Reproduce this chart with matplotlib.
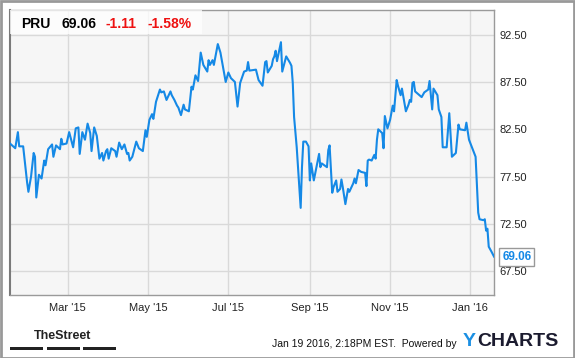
import matplotlib
matplotlib.use('Agg')
import matplotlib.pyplot as plt
import matplotlib.dates as mdates
from matplotlib.patches import Rectangle
import pandas as pd

plt.rcParams['font.family'] = ['Liberation Sans', 'DejaVu Sans']

# PRU closing prices
dates = [
    '2015-01-16', '2015-01-20', '2015-01-22', '2015-01-23', '2015-01-26', '2015-01-29', '2015-01-30',
    '2015-02-01', '2015-02-03', '2015-02-04', '2015-02-05', '2015-02-07', '2015-02-09', '2015-02-11',
    '2015-02-12', '2015-02-14', '2015-02-17', '2015-02-18', '2015-02-20', '2015-02-23', '2015-02-24',
    '2015-02-25', '2015-02-28', '2015-03-02', '2015-03-05', '2015-03-07', '2015-03-09', '2015-03-10',
    '2015-03-12', '2015-03-14', '2015-03-16', '2015-03-18', '2015-03-19', '2015-03-21', '2015-03-23',
    '2015-03-25', '2015-03-27', '2015-03-28', '2015-03-30', '2015-03-31', '2015-04-01', '2015-04-03',
    '2015-04-06', '2015-04-07', '2015-04-09', '2015-04-11', '2015-04-13', '2015-04-15', '2015-04-16',
    '2015-04-17', '2015-04-19', '2015-04-22', '2015-04-24', '2015-04-27', '2015-04-29', '2015-04-30',
    '2015-05-02', '2015-05-04', '2015-05-05', '2015-05-07', '2015-05-10', '2015-05-11', '2015-05-13',
    '2015-05-15', '2015-05-18', '2015-05-19', '2015-05-21', '2015-05-23', '2015-05-24', '2015-05-26',
    '2015-05-28', '2015-05-29', '2015-06-01', '2015-06-03', '2015-06-04', '2015-06-06', '2015-06-08',
    '2015-06-10', '2015-06-12', '2015-06-15', '2015-06-16', '2015-06-17', '2015-06-19', '2015-06-20',
    '2015-06-23', '2015-06-25', '2015-06-29', '2015-07-01', '2015-07-02', '2015-07-03', '2015-07-06',
    '2015-07-08', '2015-07-10', '2015-07-13', '2015-07-15', '2015-07-16', '2015-07-17', '2015-07-22',
    '2015-07-24', '2015-07-27', '2015-07-29', '2015-07-30', '2015-07-31', '2015-08-03', '2015-08-04',
    '2015-08-05', '2015-08-06', '2015-08-07', '2015-08-10', '2015-08-11', '2015-08-14', '2015-08-17',
    '2015-08-18', '2015-08-19', '2015-08-20', '2015-08-22', '2015-08-25', '2015-08-26', '2015-08-27',
    '2015-08-29', '2015-08-31', '2015-09-01', '2015-09-02', '2015-09-04', '2015-09-06', '2015-09-08',
    '2015-09-09', '2015-09-10', '2015-09-14', '2015-09-15', '2015-09-16', '2015-09-18', '2015-09-19',
    '2015-09-21', '2015-09-22', '2015-09-24', '2015-09-25', '2015-09-26', '2015-09-28', '2015-09-30',
    '2015-10-01', '2015-10-04', '2015-10-05', '2015-10-06', '2015-10-08', '2015-10-10', '2015-10-13',
    '2015-10-14', '2015-10-15', '2015-10-16', '2015-10-18', '2015-10-20', '2015-10-21', '2015-10-22',
    '2015-10-23', '2015-10-26', '2015-10-27', '2015-10-28', '2015-10-30', '2015-11-01', '2015-11-03',
    '2015-11-04', '2015-11-06', '2015-11-07', '2015-11-09', '2015-11-10', '2015-11-13', '2015-11-15',
    '2015-11-16', '2015-11-17', '2015-11-18', '2015-11-19', '2015-11-20', '2015-11-25', '2015-11-27',
    '2015-11-30', '2015-12-01', '2015-12-03', '2015-12-04', '2015-12-07', '2015-12-08', '2015-12-10',
    '2015-12-11', '2015-12-14', '2015-12-16', '2015-12-18', '2015-12-21', '2015-12-23', '2015-12-24',
    '2015-12-28', '2015-12-29', '2015-12-31', '2016-01-05', '2016-01-07', '2016-01-08', '2016-01-11',
    '2016-01-12', '2016-01-13', '2016-01-14', '2016-01-15', '2016-01-17', '2016-01-19',
]
prices = [
    81.0, 80.5, 82.2, 80.7, 80.7, 76.9, 75.9,
    77.5, 80.0, 79.6, 75.3, 77.7, 77.3, 79.2,
    78.7, 80.4, 80.9, 79.6, 80.8, 80.4, 81.5,
    80.9, 81.0, 82.2, 80.6, 82.6, 82.7, 79.9,
    82.2, 81.4, 83.1, 82.1, 80.2, 82.7, 81.8,
    79.4, 80.0, 79.2, 80.2, 80.4, 79.4, 80.5,
    80.2, 79.6, 81.1, 80.4, 80.9, 79.9, 80.0,
    79.2, 79.6, 81.2, 80.5, 80.2, 82.4, 81.7,
    83.5, 84.1, 83.6, 85.4, 86.7, 86.4, 86.5,
    85.6, 86.5, 86.1, 85.6, 85.0, 84.8, 84.0,
    85.1, 84.6, 84.4, 87.0, 86.7, 88.2, 87.6,
    90.6, 89.3, 88.6, 89.8, 89.3, 89.8, 89.3,
    91.5, 90.6, 87.5, 88.5, 88.2, 87.9, 87.5,
    84.9, 87.4, 88.6, 88.7, 89.6, 88.7, 88.8,
    87.7, 87.1, 89.6, 89.7, 88.5, 89.2, 89.9,
    90.2, 90.8, 89.7, 91.7, 88.6, 90.2, 89.5,
    89.2, 87.4, 83.8, 80.6, 74.2, 78.5, 81.2,
    81.2, 80.7, 77.1, 78.9, 77.1, 78.5, 79.9,
    78.5, 78.9, 78.5, 80.3, 80.8, 75.8, 76.4,
    77.1, 75.9, 76.2, 77.2, 76.4, 74.6, 76.2,
    75.9, 76.8, 77.3, 76.8, 78.2, 78.0, 77.9,
    76.5, 79.2, 79.3, 79.2, 79.8, 79.4, 81.4,
    82.5, 82.1, 80.5, 83.9, 82.6, 83.5, 85.0,
    84.4, 87.7, 87.1, 86.1, 86.8, 84.4, 85.1,
    85.6, 85.4, 87.4, 87.5, 86.5, 85.9, 86.4,
    86.7, 87.6, 84.6, 86.8, 86.1, 84.6, 83.8,
    80.6, 80.6, 84.2, 79.6, 80.0, 83.0, 82.5,
    82.4, 83.2, 81.4, 79.6, 73.7, 73.0, 72.9,
    73.0, 71.8, 72.0, 70.1, 69.6, 69.06,
]
yticks = [67.5, 72.5, 77.5, 82.5, 87.5, 92.5]
xticks = ['2015-03-01', '2015-05-01', '2015-07-01', '2015-09-01', '2015-11-01', '2016-01-01']

ticker = 'PRU'
last_price = '69.06'
change = '-1.11'
change_pct = '-1.58%'

W, H = 575, 358
BLUE = '#1589e6'

x = pd.to_datetime(dates)

fig = plt.figure(figsize=(W / 100, H / 100), dpi=100)
fig.patch.set_facecolor('white')
ax = fig.add_axes([10 / W, 1 - 295 / H, 484 / W, 285 / H])
ax.set_facecolor('#f6f6f6')

ax.plot(x, prices, color=BLUE, linewidth=1.5, zorder=3)

ax.set_xlim(x[0], x[-1])
ax.set_ylim(65.0, 95.1)
ax.set_yticks(yticks)
ax.set_yticklabels([f'{v:.2f}' for v in yticks])
ax.yaxis.tick_right()
ax.set_xticks(pd.to_datetime(xticks))
ax.xaxis.set_major_formatter(mdates.DateFormatter("%b '%y"))
ax.tick_params(axis='both', length=0, labelsize=8, labelcolor='#222222')
ax.tick_params(axis='y', pad=4)
ax.tick_params(axis='x', pad=6)
ax.grid(True, color='#d9d9d9', linewidth=1)
ax.set_axisbelow(True)
for s in ax.spines.values():
    s.set_color('#9a9a9a')
    s.set_linewidth(1)
ax.spines['left'].set_color('#7a7a7a')
ax.spines['left'].set_linewidth(1.5)

# header with ticker and change
ax.add_patch(Rectangle((0, 1 - 24 / 285), 192 / 484, 24 / 285, transform=ax.transAxes,
                       facecolor='white', alpha=0.75, edgecolor='none', zorder=4))
hy = 1 - 23.5 / H
fig.text(21 / W, hy, ticker, fontsize=10, fontweight='bold', color='black', va='center')
fig.text(61 / W, hy, last_price, fontsize=10, fontweight='bold', color='black', va='center')
fig.text(106 / W, hy, change, fontsize=10, fontweight='bold', color='#ee1111', va='center')
fig.text(147 / W, hy, change_pct, fontsize=10, fontweight='bold', color='#ee1111', va='center')

# last value tag
ax.annotate(last_price, xy=(1, prices[-1]), xycoords=('axes fraction', 'data'),
            xytext=(6, 0), textcoords='offset points', va='center', ha='left',
            fontsize=8.5, fontweight='bold', color=BLUE, annotation_clip=False,
            bbox=dict(boxstyle='square,pad=0.25', facecolor='white', edgecolor='#999999', linewidth=1),
            zorder=6)

# footer
fig.text(63 / W, 1 - 336 / H, 'TheStreet', fontsize=9, fontweight='bold',
         color='#222222', ha='center', va='center')
for bx in [10, 47, 83]:
    fig.add_artist(Rectangle((bx / W, 1 - 350 / H), 33 / W, 3 / H, transform=fig.transFigure,
                             facecolor='#222222', edgecolor='none'))
fig.text(272 / W, 1 - 344 / H, 'Jan 19 2016, 2:18PM EST.  Powered by', fontsize=7.5,
         color='#111111', va='center')
fig.text(463 / W, 1 - 342 / H, 'Y', fontsize=14, fontweight='heavy', color='#1a8fe3', va='center')
fig.text(477 / W, 1 - 342 / H, 'CHARTS', fontsize=14, fontweight='heavy', color='#1b1b2f', va='center')

# outer frame
fig.add_artist(Rectangle((0.5 / W, 0.5 / H), (W - 1.5) / W, (H - 1.5) / H, transform=fig.transFigure,
                         facecolor='none', edgecolor='#999999', linewidth=2))

fig.savefig('out.png', dpi=100)
